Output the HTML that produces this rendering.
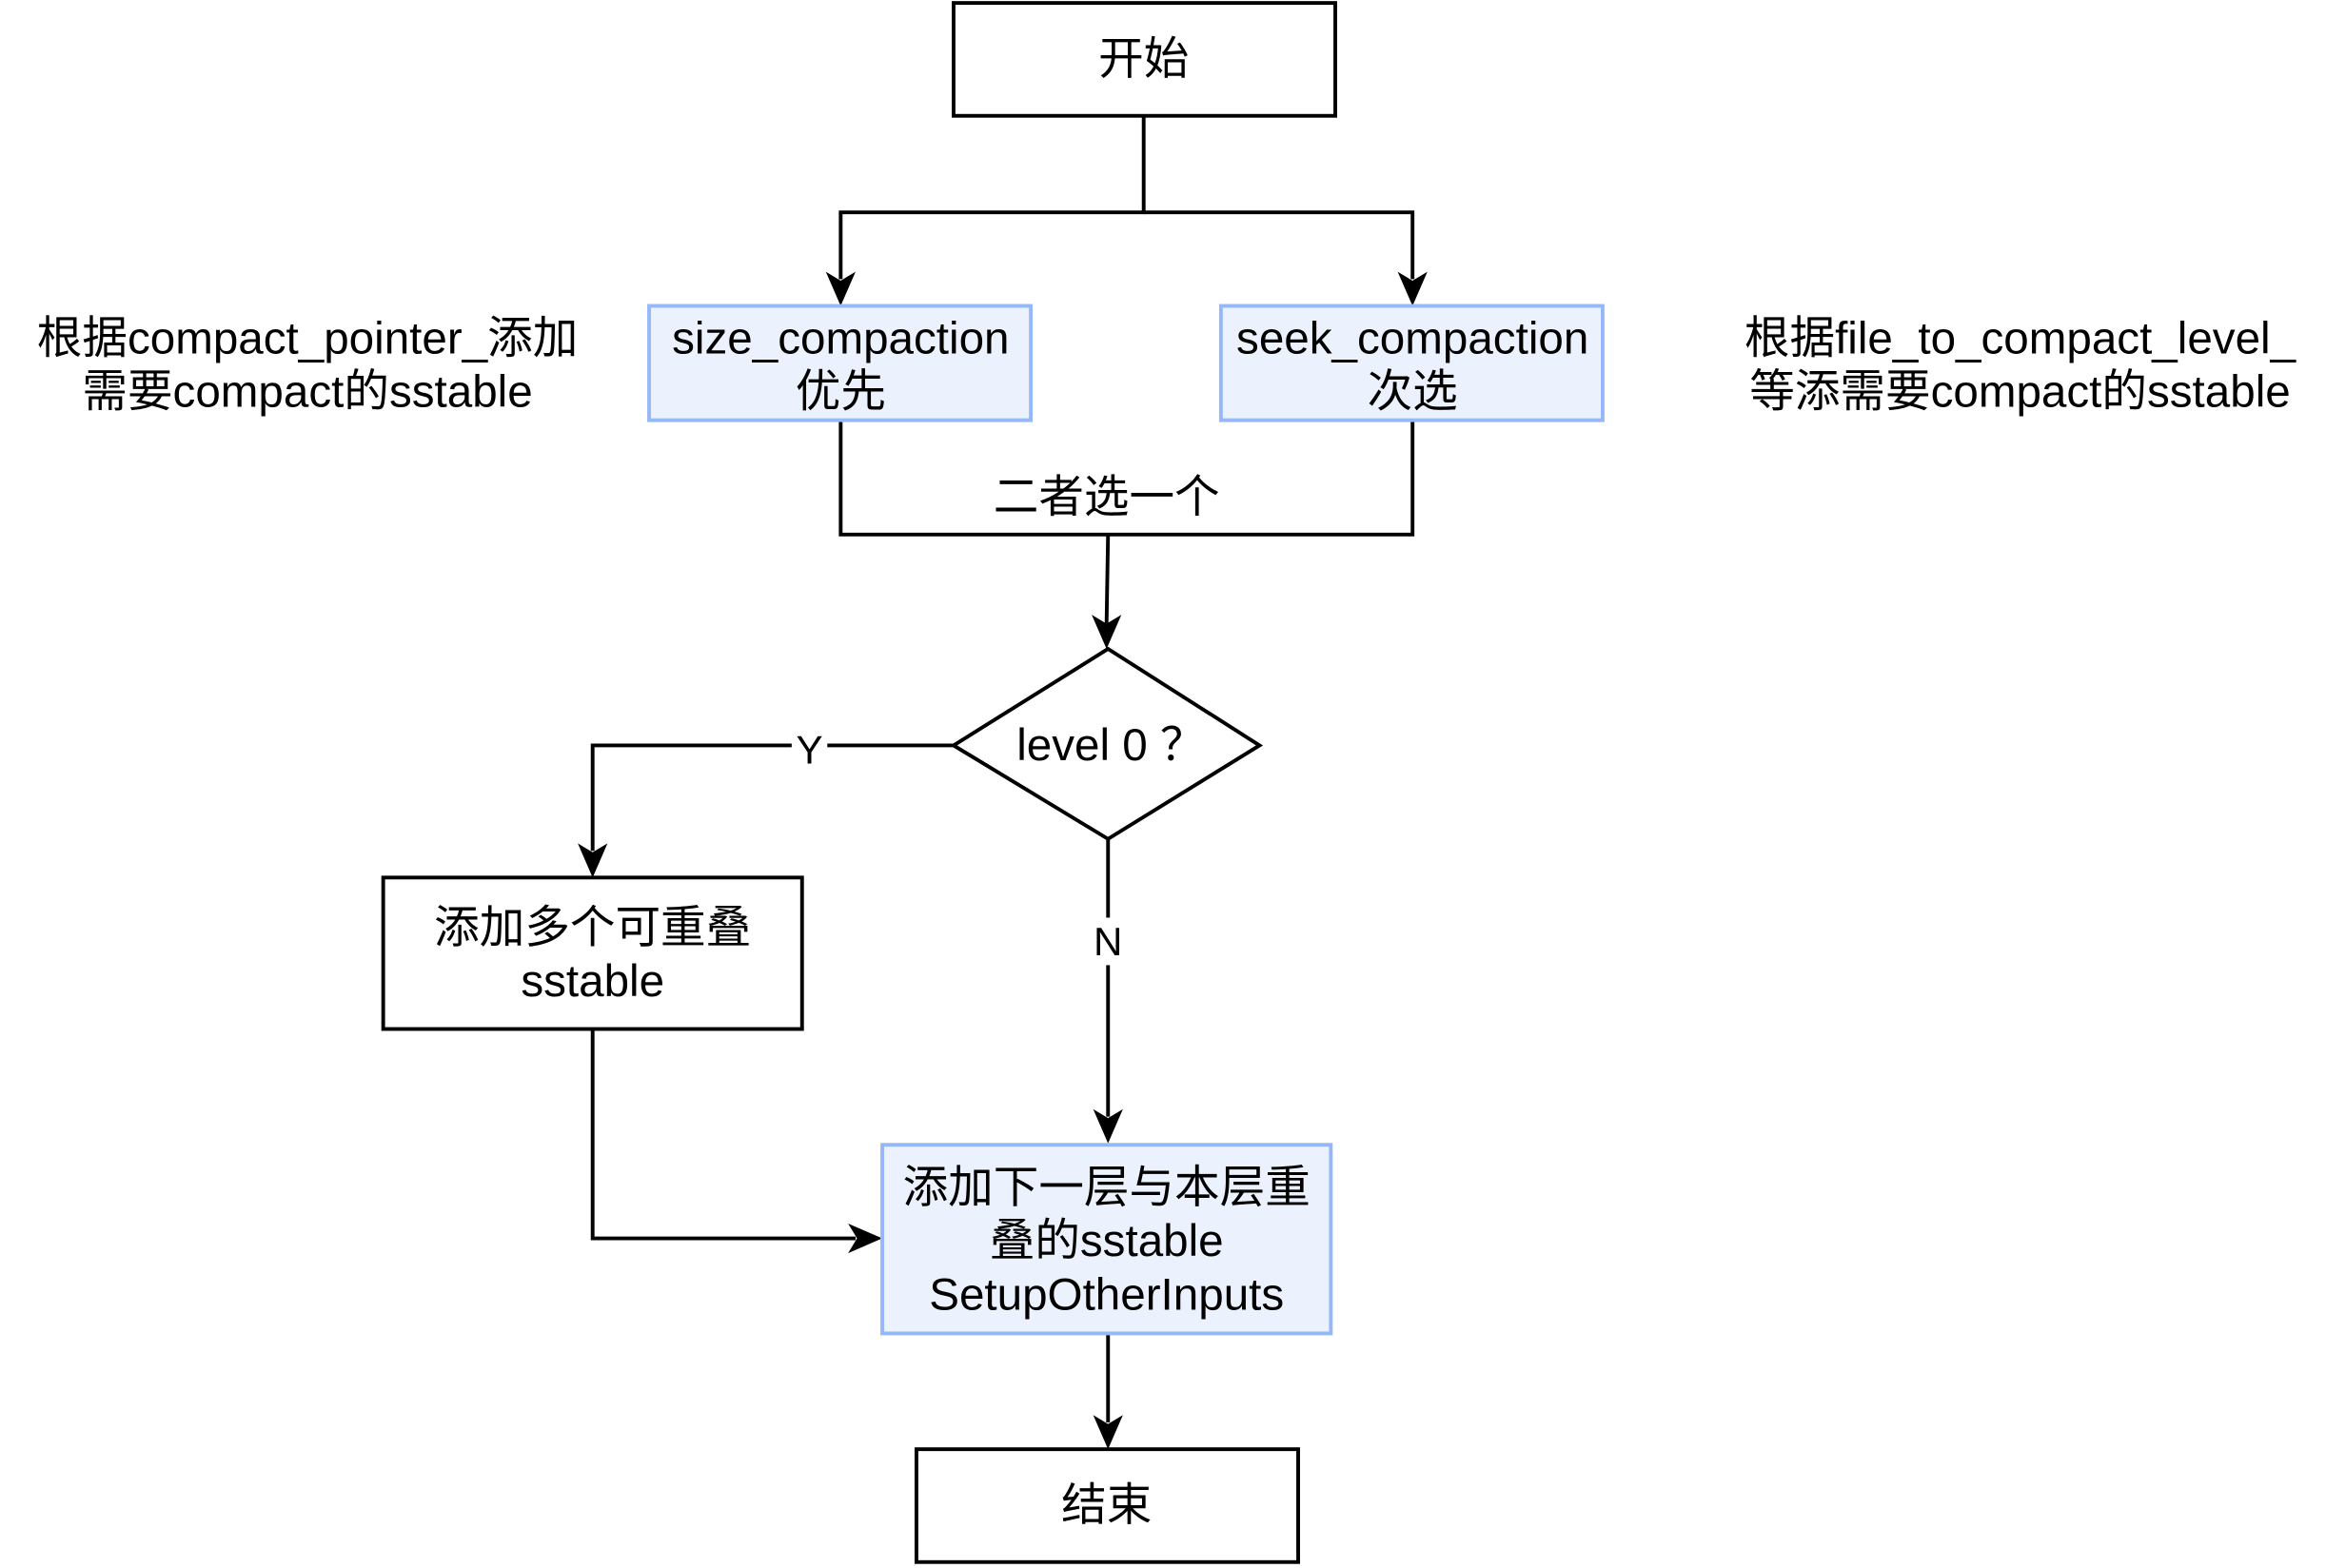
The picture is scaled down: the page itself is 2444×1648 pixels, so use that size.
<!DOCTYPE html>
<html><head><meta charset="utf-8"><style>
html,body{margin:0;padding:0;background:#fff;}
svg{display:block}
text{font-family:"Liberation Sans","Noto Sans CJK SC",sans-serif;font-size:30.5px;fill:#000;text-anchor:middle;dominant-baseline:central}
</style></head><body>
<svg width="2444" height="1648" viewBox="0 0 1566 1056" preserveAspectRatio="none" xmlns="http://www.w3.org/2000/svg">
<g fill="none" stroke="#000" stroke-width="2.5">
<rect x="642" y="2" width="257" height="76"/>
<polyline points="770,78 770,143 566,143 566,188"/>
<polyline points="770,143 951,143 951,188"/>
<polyline points="566,283 566,360 951,360 951,283"/>
<polyline points="746,360 745,420"/>
<polygon points="746,437 848,502 746,565 642,502"/>
<polyline points="642,502 399,502 399,573"/>
<rect x="258" y="591" width="282" height="102"/>
<polyline points="746,565 746,752"/>
<polyline points="399,693 399,834 576,834"/>
<polyline points="746,898 746,958"/>
<rect x="617" y="976" width="257" height="76"/>
</g>
<g fill="#000">
<polygon points="566,206 556,183 566,189 576,183"/>
<polygon points="951,206 941,183 951,189 961,183"/>
<polygon points="745,437 735,414 745,420 755,414"/>
<polygon points="399,591 389,568 399,574 409,568"/>
<polygon points="746,770 736,747 746,753 756,747"/>
<polygon points="594,834 571,824 577,834 571,844"/>
<polygon points="746,976 736,953 746,959 756,953"/>
</g>
<g fill="#ebf1fd" stroke="#96b8f8" stroke-width="2.5">
<rect x="437" y="206" width="257" height="77"/>
<rect x="822" y="206" width="257" height="77"/>
<rect x="594" y="771" width="302" height="127"/>
</g>
<rect x="533" y="490" width="24" height="28" fill="#fff"/>
<rect x="734" y="618" width="24" height="32" fill="#fff"/>
<text x="770" y="40">开始</text>
<text x="566" y="228">size_compaction</text>
<text x="566" y="264">优先</text>
<text x="951" y="228">seek_compaction</text>
<text x="951" y="264">次选</text>
<text x="207" y="228">根据compact_pointer_添加</text>
<text x="207" y="264">需要compact的sstable</text>
<text x="1360" y="228">根据file_to_compact_level_</text>
<text x="1360" y="264">等添需要compact的sstable</text>
<text x="745" y="335">二者选一个</text>
<text x="748" y="502">level 0 ？</text>
<text x="545" y="505" style="font-size:27px">Y</text>
<text x="746" y="634" style="font-size:27px">N</text>
<text x="399" y="625">添加多个可重叠</text>
<text x="399" y="661">sstable</text>
<text x="745" y="800">添加下一层与本层重</text>
<text x="745" y="836">叠的sstable</text>
<text x="745" y="872">SetupOtherInputs</text>
<text x="745" y="1014">结束</text>
</svg>
</body></html>
